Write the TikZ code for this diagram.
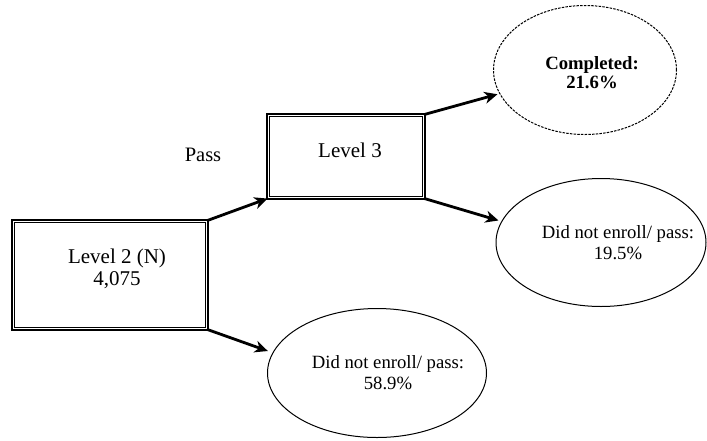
\documentclass[tikz,border=0pt]{standalone}
\usepackage{fontspec}
\setmainfont{Liberation Serif}
\newfontfamily\tnr{Liberation Serif}
\usetikzlibrary{shapes.geometric,arrows.meta}
\begin{document}
\begin{tikzpicture}[x=1pt,y=-1pt,
  levelbox/.style={draw,double,line width=1.6pt,double distance=1.1pt,inner sep=0pt},
  outcome/.style={draw,ellipse,line width=1pt,inner sep=0pt},
  dashedoutcome/.style={outcome,dash pattern=on 2.5pt off 1.2pt},
  boxtext/.style={align=center,inner sep=0pt,font=\tnr\fontsize{21}{22}\selectfont},
  ovaltext/.style={align=center,inner sep=0pt,font=\tnr\fontsize{18.7}{21}\selectfont},
  arr/.style={line width=2.8pt,-{Stealth[length=13pt,width=12pt,inset=4pt]}}]
\useasboundingbox (0,0) rectangle (707,440);
% boxes
\node[levelbox,minimum width=193.5pt,minimum height=107.5pt] (L2) at (110,275) {};
\node[levelbox,minimum width=155.5pt,minimum height=82.5pt] (L3) at (346,156.5) {};
\node[boxtext] (L2t) at (117,269) {Level 2 (N)\\4,075\hspace{10pt}};
\node[boxtext] (L3t) at (350,150) {Level 3};
\node[boxtext,font=\tnr\fontsize{20.5}{22}\selectfont] (pass) at (203,155) {Pass};
% ellipses
\node[dashedoutcome,minimum width=183pt,minimum height=129pt] (comp) at (585,70) {};
\node[outcome,minimum width=210pt,minimum height=128pt] (dn1) at (601,242.5) {};
\node[outcome,minimum width=219pt,minimum height=129pt] (dn2) at (377,373) {};
\node[ovaltext,font=\tnr\bfseries\fontsize{18.7}{19}\selectfont] (compt) at (592,72.5) {Completed:\\21.6\%\hspace{18pt}};
\node[ovaltext] (dn1t) at (618,242.5) {Did not enroll/ pass:\\19.5\%\hspace{10pt}};
\node[ovaltext] (dn2t) at (388,372.5) {Did not enroll/ pass:\\58.9\%\hspace{16pt}};
% arrows
\draw[arr] (L2.north east) -- (L3.south west);
\draw[arr,shorten >=5pt] (L2.south east) -- (dn2.169);
\draw[arr,shorten >=2pt] (L3.north east) -- (comp);
\draw[arr,shorten >=3pt] (L3.south east) -- (dn1.168);
\end{tikzpicture}
\end{document}
